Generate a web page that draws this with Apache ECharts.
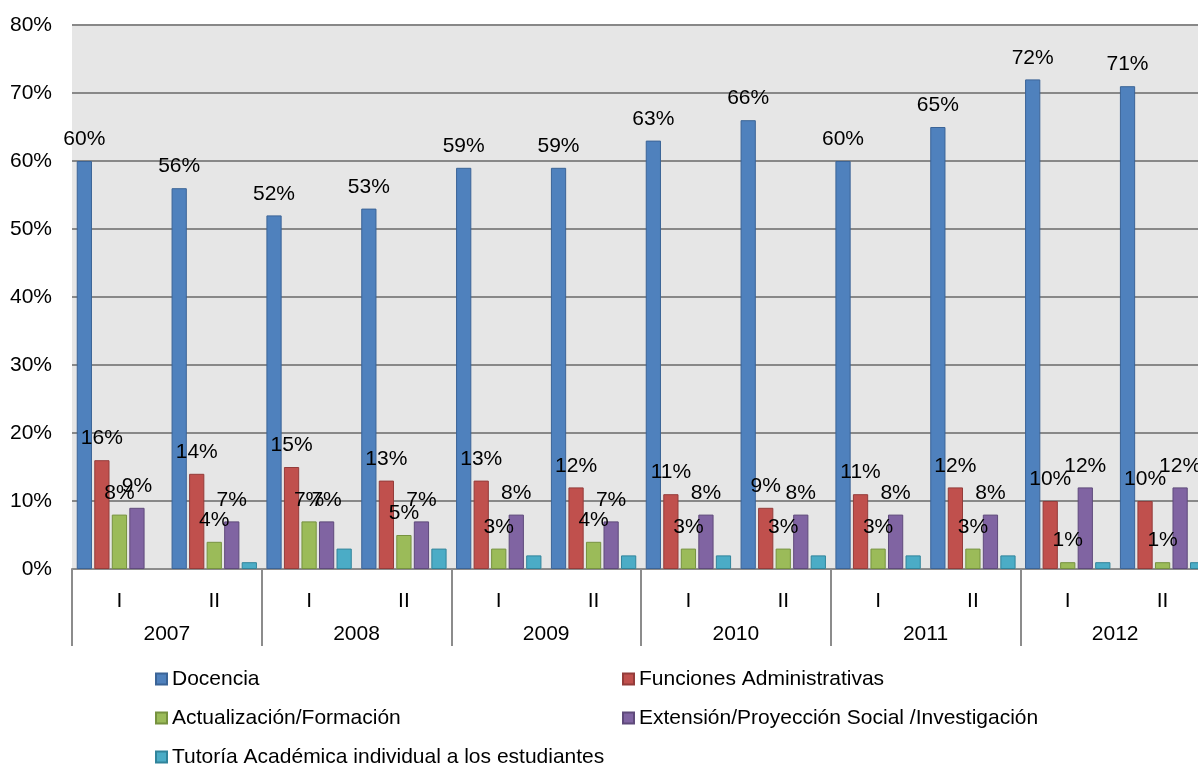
<!DOCTYPE html>
<html>
<head>
<meta charset="utf-8">
<script src="https://cdn.jsdelivr.net/npm/echarts@6/dist/echarts.min.js"></script>
<style>
html,body{margin:0;padding:0;background:#fff;overflow:hidden;width:1198px;height:766px;}
#c{width:1216px;height:766px;}
</style>
</head>
<body>
<div id="c"></div>
<script>
const semesters = ['I','II','I','II','I','II','I','II','I','II','I','II'];
const years = ['2007','2008','2009','2010','2011','2012'];
const seriesNames = ['Docencia','Funciones Administrativas','Actualización/Formación','Extensión/Proyección Social /Investigación','Tutoría Académica individual a los estudiantes'];
const docencia    = [60,56,52,53,59,59,63,66,60,65,72,71];
const funciones   = [16,14,15,13,13,12,11,9,11,12,10,10];
const actualiz    = [8,4,7,5,3,4,3,3,3,3,1,1];
const extension   = [9,7,7,7,8,7,8,8,8,8,12,12];
const tutoria     = [null,1,3,3,2,2,2,2,2,2,1,1];

const colors  = ['#4F81BD','#C0504D','#9BBB59','#8064A2','#4BACC6'];
const borders = ['#3B6497','#943C3A','#76923F','#5F4A7B','#31849B'];
const dataSets = [docencia, funciones, actualiz, extension, tutoria];
const FONT = 'Liberation Sans, Arial, sans-serif';
const FS = 21;

const series = dataSets.map((d, i) => ({
  name: seriesNames[i],
  type: 'bar',
  data: d,
  barCategoryGap: '10%',
  barGap: '15%',
  itemStyle: { color: colors[i], borderColor: borders[i], borderWidth: 1 },
  label: {
    show: i < 4,
    position: 'top',
    distance: 11,
    formatter: p => p.value + '%',
    fontFamily: FONT,
    fontSize: FS,
    color: '#000'
  }
}));

// legend placement: [seriesIndex, left, top]
const legendPos = [[0,155,668],[1,622,668],[2,155,707],[3,622,707],[4,155,746]];
const legends = legendPos.map(([si, l, t]) => ({
  data: [seriesNames[si]],
  orient: 'horizontal', left: l, top: t, padding: 0,
  itemWidth: 11, itemHeight: 11, icon: 'rect',
  textStyle: { fontFamily: FONT, fontSize: FS, color: '#000', lineHeight: 22 }
}));

const chart = echarts.init(document.getElementById('c'), null, {renderer: 'canvas'});
chart.setOption({
  animation: false,
  textStyle: { fontFamily: FONT },
  grid: { left: 72, width: 1138, top: 25, height: 544, containLabel: false,
          show: true, backgroundColor: '#E6E6E6', borderWidth: 0 },
  xAxis: [
    {
      type: 'category', data: semesters, position: 'bottom',
      axisLine: { show: true, lineStyle: { color: '#8C8C8C', width: 2 } },
      axisTick: { show: false },
      axisLabel: { fontFamily: FONT, fontSize: FS, color: '#000', margin: 22, interval: 0 }
    },
    {
      type: 'category', data: years, position: 'bottom', gridIndex: 0,
      axisLine: { show: false },
      axisTick: { show: true, length: 77, lineStyle: { color: '#8C8C8C', width: 2 } },
      axisLabel: { fontFamily: FONT, fontSize: FS, color: '#000', margin: 55, interval: 0 }
    }
  ],
  yAxis: {
    type: 'value', min: 0, max: 80, interval: 10,
    axisLine: { show: false },
    axisTick: { show: false },
    splitLine: { show: true, lineStyle: { color: '#888888', width: 2 } },
    axisLabel: { fontFamily: FONT, fontSize: FS, color: '#000', margin: 20,
                 formatter: v => v + '%' }
  },
  legend: legends,
  series: series
});
</script>
</body>
</html>
